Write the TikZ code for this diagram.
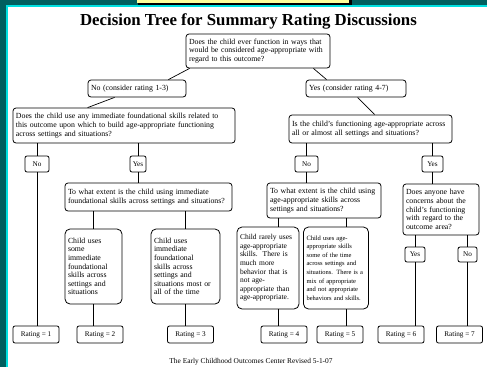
\documentclass[tikz,border=0pt]{standalone}
\usepackage{fontspec}
\setmainfont{Liberation Serif}
\definecolor{deepteal}{RGB}{0,95,95}
\definecolor{edgecyan}{RGB}{0,225,225}
\definecolor{tabyellow}{RGB}{255,255,153}
\newcommand\boxfont{\fontsize{7.8}{8.7}\selectfont}
\newcommand\cellfont{\fontsize{7.8}{8.6}\selectfont}
\newcommand\tagfont{\fontsize{7.2}{8}\selectfont}
\begin{document}
\begin{tikzpicture}[x=1pt, y=-1pt,
	qbox/.style={draw, rounded corners=3pt, line width=0.8pt, font=\boxfont, align=left, inner xsep=3pt, inner ysep=2pt},
	cell/.style={qbox, font=\cellfont, rounded corners=5pt},
	tag/.style={qbox, rounded corners=2pt, align=center, inner xsep=1pt, font=\tagfont},
	link/.style={line width=0.7pt}]
	\useasboundingbox (0,0) rectangle (487,367);
	% frame of the slide
	\fill[deepteal] (0,0) rectangle (487,367);
	\fill[edgecyan] (6,5) rectangle (487,367);
	\fill[white] (8,7) rectangle (487,367);
	\fill[black] (138,0) rectangle (352,4.5);
	\fill[tabyellow] (137,0) rectangle (349,2.8);
	\node[font=\fontsize{16.8}{20}\selectfont\bfseries] (title) at (248.5,21) {Decision Tree for Summary Rating Discussions};
	% first question
	\node[qbox, text width=138pt, minimum height=34pt] (root) at (258,51) {Does the child ever function in ways that\\would be considered age-appropriate with\\regard to this outcome?};
	\node[qbox, text width=92pt, minimum height=17pt] (noA) at (137,88.5) {No (consider rating 1-3)};
	\node[qbox, text width=94pt, minimum height=17pt] (yesA) at (356,88.5) {Yes (consider rating 4-7)};
	\draw[link] ([xshift=4pt]root.south west) -- ([xshift=-18pt]noA.north east);
	\draw[link] ([xshift=-17pt]root.south east) -- ([xshift=21pt]yesA.north west);
	% left branch
	\node[qbox, text width=216pt, minimum height=35pt] (qL) at (124,125.5) {Does the child use any immediate foundational skills related to\\this outcome upon which to build age-appropriate functioning\\across settings and situations?};
	\draw[link] ([xshift=27pt]noA.south west) -- ([xshift=75pt]qL.north west);
	\node[tag, minimum width=24pt, minimum height=16pt] (noL) at (37,164) {No};
	\node[tag, minimum width=16pt, minimum height=16pt] (yesL) at (138,164) {Yes};
	\node[qbox, text width=161pt, minimum height=28pt] (midL) at (148.5,197) {To what extent is the child using immediate\\foundational skills across settings and situations?};
	\node[cell, text width=51pt, minimum height=75pt] (c2) at (93.5,266.5) {Child uses\\some\\immediate\\foundational\\skills across\\settings and\\situations};
	\node[cell, text width=63pt, minimum height=75pt] (c3) at (185.5,266.5) {Child uses\\immediate\\foundational\\skills across\\settings and\\situations most or\\all of the time};
	% right branch
	\node[qbox, text width=157pt, minimum height=28pt] (qR) at (370.5,129) {Is the child's functioning age-appropriate across\\all or almost all settings and situations?};
	\draw[link] ([xshift=52pt]yesA.south west) -- ([xshift=86pt]qR.north west);
	\node[tag, minimum width=23pt, minimum height=16pt] (noR) at (306.5,164) {No};
	\node[tag, minimum width=21pt, minimum height=16pt] (yesR) at (432.5,164) {Yes};
	\node[qbox, text width=108pt, minimum height=35pt] (midR) at (324,200.5) {To what extent is the child using\\age-appropriate skills across\\settings and situations?};
	\node[qbox, text width=70pt, minimum height=51pt] (concern) at (441,209.5) {Does anyone have\\concerns about the\\child's functioning\\with regard to the\\outcome area?};
	\node[tag, minimum width=20pt, minimum height=15pt] (yes6) at (415,254.5) {Yes};
	\node[tag, minimum width=19pt, minimum height=15pt] (no7) at (467.5,254.5) {No};
	\node[cell, font=\fontsize{7.5}{8.6}\selectfont, text width=56pt, minimum height=82pt] (c4) at (268,268) {Child rarely uses\\age-appropriate\\skills.\ \ There is\\much more\\behavior that is\\not age-\\appropriate than\\age-appropriate.};
	\node[cell, font=\fontsize{6.5}{8.6}\selectfont, text width=59pt, minimum height=82pt] (c5) at (336,268) {Child uses age-\\appropriate skills\\some of the time\\across settings and\\situations. There is a\\mix of appropriate\\and not appropriate\\behaviors and skills.};
	% ratings
	\foreach \name/\xc/\num in {r1/36/1, r2/100/2, r3/190.5/3, r4/284/4, r5/340/5, r6/401/6, r7/459.5/7}
		\node[tag, minimum width=46pt, minimum height=17pt, inner xsep=3pt] (\name) at (\xc,334.5) {Rating = \num};
	% stems
	\draw[link] (noL.north) -- (noL.north |- qL.south);
	\draw[link] (noL.south) -- (noL.south |- r1.north);
	\draw[link] (yesL.north) -- (yesL.north |- qL.south);
	\draw[link] (yesL.south) -- (yesL.south |- midL.north);
	\draw[link] (c2.north) -- (c2.north |- midL.south);
	\draw[link] (c2.south) -- (c2.south |- r2.north);
	\draw[link] (c3.north) -- (c3.north |- midL.south);
	\draw[link] (c3.south) -- (c3.south |- r3.north);
	\draw[link] (noR.north) -- (noR.north |- qR.south);
	\draw[link] (noR.south) -- (noR.south |- midR.north);
	\draw[link] (yesR.north) -- (yesR.north |- qR.south);
	\draw[link] (yesR.south) -- (yesR.south |- concern.north);
	\draw[link] ([xshift=10pt]c4.north) -- ([xshift=10pt]c4.north |- midR.south);
	\draw[link] ([xshift=10pt]c4.south) -- ([xshift=10pt]c4.south |- r4.north);
	\draw[link] ([xshift=10.5pt]c5.north) -- ([xshift=10.5pt]c5.north |- midR.south);
	\draw[link] ([xshift=10.5pt]c5.south) -- ([xshift=10.5pt]c5.south |- r5.north);
	\draw[link] (yes6.north) -- (yes6.north |- concern.south);
	\draw[link] (yes6.south) -- (yes6.south |- r6.north);
	\draw[link] (no7.north) -- (no7.north |- concern.south);
	\draw[link] (no7.south) -- (no7.south |- r7.north);
	\node[font=\fontsize{7.4}{9}\selectfont] (credit) at (251,362) {The Early Childhood Outcomes Center Revised 5-1-07};
\end{tikzpicture}
\end{document}
